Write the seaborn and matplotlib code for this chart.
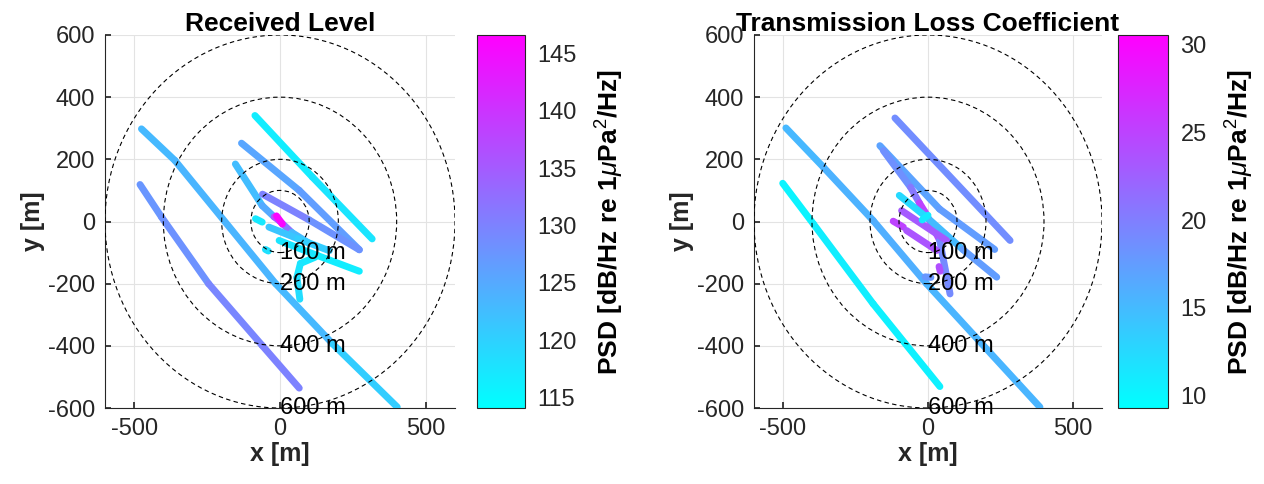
import numpy as np
import matplotlib
matplotlib.use('Agg')
import matplotlib.pyplot as plt
from matplotlib.collections import LineCollection
from matplotlib.patches import Circle
import seaborn as sns

# Received level tracks: x [m], y [m], PSD value at each waypoint
rl_x = [
    [-475, -360, -15, 180, 402],
    [-480, -406, -245, -61, 66],
    [-86, 111, 316],
    [-132, 66, 272],
    [-153, -61, -20, -3],
    [-3, 40, 100],
    [-60, 100, 272],
    [-38, 60, 169],
    [-3, 130, 272],
    [120, 70, 58, 68],
    [-84, -61],
    [-50, -40],
    [-12, 8],
]
rl_y = [
    [298, 196, -200, -393, -597],
    [119, 14, -200, -399, -536],
    [341, 143, -56],
    [252, 100, -91],
    [185, 51, 15, 3],
    [3, -35, -70],
    [88, 5, -91],
    [-18, -55, -94],
    [-61, -110, -160],
    [-115, -135, -180, -250],
    [9, -2],
    [-90, -95],
    [18, -8],
]
rl_v = [
    [123, 123, 124, 122, 119],
    [127, 128, 128, 131, 129],
    [116, 117, 118],
    [125, 126, 127],
    [122, 123, 127, 146],
    [138, 125, 121],
    [131, 129, 127],
    [122, 121, 120],
    [118, 117, 116],
    [117, 117, 118, 119],
    [117, 117],
    [118, 118],
    [146, 146],
]

# Transmission loss coefficient tracks
tl_x = [
    [-490, -361, -189, -5, 386],
    [-501, -395, -189, 41],
    [-114, 283],
    [-166, 40, 230],
    [-154, -60, -30, -10, 40, 76],
    [-99, 0, 120, 237],
    [-91, 64],
    [-120, -85],
    [-74, 30],
    [-10, 10],
    [38, 42],
    [-20, 0],
]
tl_y = [
    [301, 175, 3, -200, -597],
    [123, -8, -265, -531],
    [333, -61],
    [244, 40, -90],
    [228, 110, 60, 30, -60, -233],
    [84, 10, -90, -179],
    [35, -61],
    [1, -18],
    [-29, -93],
    [-178, -180],
    [-145, -160],
    [5, 20],
]
tl_v = [
    [15, 15.5, 16, 16, 15],
    [10, 10.5, 11, 10],
    [18.5, 19],
    [17, 17, 18],
    [18, 19, 22, 28, 20, 18],
    [12, 13, 17, 18],
    [24, 22],
    [25, 25],
    [24, 23],
    [18, 18],
    [24, 24],
    [11, 11],
]

radii = [100, 200, 400, 600]
ring_labels = ['100 m', '200 m', '400 m', '600 m']

sns.set_theme(style='whitegrid')
plt.rcParams['font.family'] = ['Liberation Sans', 'DejaVu Sans']
plt.rcParams['axes.unicode_minus'] = False
plt.rcParams['mathtext.fontset'] = 'custom'
plt.rcParams['mathtext.rm'] = 'Liberation Sans'
plt.rcParams['mathtext.it'] = 'Liberation Sans:italic'
plt.rcParams['mathtext.bf'] = 'Liberation Sans:bold'

fig = plt.figure(figsize=(12.64, 4.84), dpi=100)
W, H = 1264, 484


def panel(ax_rect, cb_rect, xs, ys, vs, vmin, vmax, title):
    ax = fig.add_axes(ax_rect)
    cax = fig.add_axes(cb_rect)
    norm = plt.Normalize(vmin, vmax)
    segs, vals = [], []
    for x, y, v in zip(xs, ys, vs):
        for i in range(len(x) - 1):
            segs.append([(x[i], y[i]), (x[i + 1], y[i + 1])])
            vals.append((v[i] + v[i + 1]) / 2)
    lc = LineCollection(segs, cmap='cool', norm=norm, linewidths=5,
                        capstyle='round', joinstyle='round', zorder=3)
    lc.set_array(np.array(vals))
    ax.add_collection(lc)
    for r, lab in zip(radii, ring_labels):
        ax.add_patch(Circle((0, 0), r, fill=False, ls=(0, (4, 3)), lw=0.8,
                            color='black', zorder=4))
        ax.text(0, -r, lab, ha='left', va='center', fontsize=17,
                color='black', zorder=5, clip_on=False)
    ax.set_xlim(-600, 600)
    ax.set_ylim(-600, 600)
    ax.set_xticks([-500, 0, 500])
    ax.set_yticks(np.arange(-600, 601, 200))
    ax.grid(True, color='#e3e3e3', lw=0.8)
    ax.set_facecolor('white')
    for s in ['top', 'right']:
        ax.spines[s].set_visible(False)
    for s in ['left', 'bottom']:
        ax.spines[s].set_color('#262626')
        ax.spines[s].set_linewidth(0.8)
    ax.tick_params(labelsize=17, colors='#262626', direction='in', length=4,
                   left=True, bottom=True, pad=7)
    ax.set_xlabel('x [m]', fontsize=18, fontweight='bold', color='#262626', labelpad=2)
    ax.set_ylabel('y [m]', fontsize=18, fontweight='bold', color='#262626', labelpad=2)
    ax.set_title(title, fontsize=19, fontweight='bold', color='black', pad=3)
    cb = fig.colorbar(lc, cax=cax)
    cb.outline.set_edgecolor('#262626')
    cb.outline.set_linewidth(0.8)
    cax.tick_params(labelsize=17, colors='#262626', direction='in', length=4, pad=9)
    cb.set_label(r'PSD [dB/Hz re 1$\mu$Pa$^2$/Hz]', fontsize=19,
                 fontweight='bold', color='black', labelpad=12)
    return ax


bottom = (H - 408) / H
height = 373 / H
panel([105 / W, bottom, 350 / W, height], [477 / W, bottom, 48 / W, height],
      rl_x, rl_y, rl_v, 114.1, 146.6, 'Received Level')
panel([754 / W, bottom, 348 / W, height], [1118 / W, bottom, 50 / W, height],
      tl_x, tl_y, tl_v, 9.26, 30.57, 'Transmission Loss Coefficient')

fig.savefig('out.png', dpi=100, facecolor='white')
